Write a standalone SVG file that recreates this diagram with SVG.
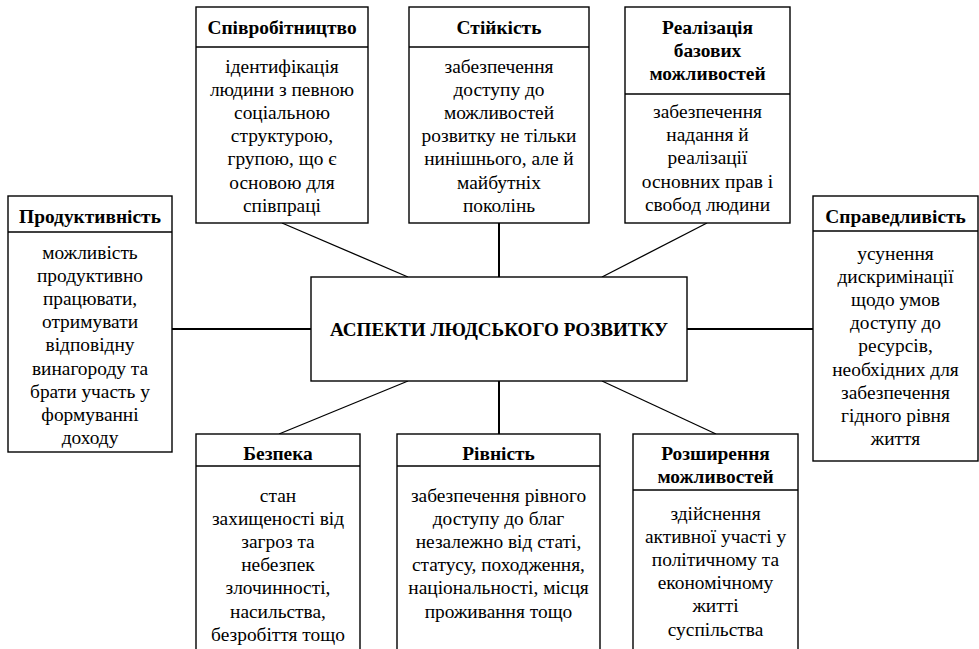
<svg xmlns="http://www.w3.org/2000/svg" width="979" height="649" viewBox="0 0 979 649">
<style>
.box{fill:#fff;stroke:#000;stroke-width:1.4}
.div{stroke:#000;stroke-width:1.6}
.t{font-family:"Liberation Serif","Times New Roman",serif;font-size:19.4px;fill:#000;text-anchor:middle}
.b{font-weight:bold}
.m{font-size:19.1px}
.c line{stroke:#000}
.d{stroke-width:1.3}
.s{stroke-width:2}
</style>
<rect width="979" height="649" fill="#fff"/>
<g id="connectors" class="c">
<line class="d" x1="282" y1="223" x2="408" y2="277"/>
<line class="s" x1="499" y1="223" x2="499" y2="277"/>
<line class="d" x1="707" y1="223" x2="602" y2="277"/>
<line class="s" x1="172" y1="329" x2="311" y2="329"/>
<line class="s" x1="687" y1="329" x2="813" y2="329"/>
<line class="d" x1="279" y1="434" x2="408" y2="381"/>
<line class="s" x1="499" y1="381" x2="499" y2="434"/>
<line class="d" x1="716" y1="434" x2="602" y2="381"/>
</g>
<g id="center">
<rect class="box" x="311" y="277" width="376" height="104"/>
<text class="t b m" x="499" y="335.5">АСПЕКТИ ЛЮДСЬКОГО РОЗВИТКУ</text>
</g>
<g id="spivrobitnytstvo">
<rect class="box" x="196" y="7" width="172" height="216"/>
<line class="div" x1="196" y1="47" x2="368" y2="47"/>
<text class="t b" x="282" y="33.5">Співробітництво</text>
<text class="t" x="282" y="72.5">ідентифікація</text>
<text class="t" x="282" y="95.7">людини з певною</text>
<text class="t" x="282" y="118.9">соціальною</text>
<text class="t" x="282" y="142.1">структурою,</text>
<text class="t" x="282" y="165.3">групою, що є</text>
<text class="t" x="282" y="188.5">основою для</text>
<text class="t" x="282" y="211.7">співпраці</text>
</g>
<g id="stiikist">
<rect class="box" x="409" y="7" width="180" height="216"/>
<line class="div" x1="409" y1="47" x2="589" y2="47"/>
<text class="t b" x="499" y="33.5">Стійкість</text>
<text class="t" x="499" y="72.5">забезпечення</text>
<text class="t" x="499" y="95.7">доступу до</text>
<text class="t" x="499" y="118.9">можливостей</text>
<text class="t" x="499" y="142.1">розвитку не тільки</text>
<text class="t" x="499" y="165.3">нинішнього, але й</text>
<text class="t" x="499" y="188.5">майбутніх</text>
<text class="t" x="499" y="211.7">поколінь</text>
</g>
<g id="realizatsiia">
<rect class="box" x="625" y="7" width="165" height="216"/>
<line class="div" x1="625" y1="94" x2="790" y2="94"/>
<text class="t b" x="707.5" y="33.5">Реалізація</text>
<text class="t b" x="707.5" y="56.7">базових</text>
<text class="t b" x="707.5" y="79.9">можливостей</text>
<text class="t" x="707.5" y="118">забезпечення</text>
<text class="t" x="707.5" y="141.2">надання й</text>
<text class="t" x="707.5" y="164.4">реалізації</text>
<text class="t" x="707.5" y="187.6">основних прав і</text>
<text class="t" x="707.5" y="210.8">свобод людини</text>
</g>
<g id="produktyvnist">
<rect class="box" x="8" y="196" width="164" height="256"/>
<line class="div" x1="8" y1="232" x2="172" y2="232"/>
<text class="t b" x="90" y="223">Продуктивність</text>
<text class="t" x="90" y="258.5">можливість</text>
<text class="t" x="90" y="281.7">продуктивно</text>
<text class="t" x="90" y="304.9">працювати,</text>
<text class="t" x="90" y="328.1">отримувати</text>
<text class="t" x="90" y="351.3">відповідну</text>
<text class="t" x="90" y="374.5">винагороду та</text>
<text class="t" x="90" y="397.7">брати участь у</text>
<text class="t" x="90" y="420.9">формуванні</text>
<text class="t" x="90" y="444.1">доходу</text>
</g>
<g id="spravedlyvist">
<rect class="box" x="813" y="196" width="165" height="265"/>
<line class="div" x1="813" y1="231" x2="978" y2="231"/>
<text class="t b" x="895.5" y="223">Справедливість</text>
<text class="t" x="895.5" y="259.5">усунення</text>
<text class="t" x="895.5" y="282.7">дискримінації</text>
<text class="t" x="895.5" y="305.9">щодо умов</text>
<text class="t" x="895.5" y="329.1">доступу до</text>
<text class="t" x="895.5" y="352.3">ресурсів,</text>
<text class="t" x="895.5" y="375.5">необхідних для</text>
<text class="t" x="895.5" y="398.7">забезпечення</text>
<text class="t" x="895.5" y="421.9">гідного рівня</text>
<text class="t" x="895.5" y="445.1">життя</text>
</g>
<g id="bezpeka">
<rect class="box" x="196" y="434" width="164" height="230"/>
<line class="div" x1="196" y1="466" x2="360" y2="466"/>
<text class="t b" x="278" y="459.5">Безпека</text>
<text class="t" x="278" y="501.5">стан</text>
<text class="t" x="278" y="524.7">захищеності від</text>
<text class="t" x="278" y="547.9">загроз та</text>
<text class="t" x="278" y="571.1">небезпек</text>
<text class="t" x="278" y="594.3">злочинності,</text>
<text class="t" x="278" y="617.5">насильства,</text>
<text class="t" x="278" y="640.7">безробіття тощо</text>
</g>
<g id="rivnist">
<rect class="box" x="397" y="434" width="203" height="230"/>
<line class="div" x1="397" y1="466" x2="600" y2="466"/>
<text class="t b" x="498.5" y="459.5">Рівність</text>
<text class="t" x="498.5" y="501.5">забезпечення рівного</text>
<text class="t" x="498.5" y="524.7">доступу до благ</text>
<text class="t" x="498.5" y="547.9">незалежно від статі,</text>
<text class="t" x="498.5" y="571.1">статусу, походження,</text>
<text class="t" x="498.5" y="594.3">національності, місця</text>
<text class="t" x="498.5" y="617.5">проживання тощо</text>
</g>
<g id="rozshyrennia">
<rect class="box" x="633" y="434" width="165" height="230"/>
<line class="div" x1="633" y1="490" x2="798" y2="490"/>
<text class="t b" x="715.5" y="459.5">Розширення</text>
<text class="t b" x="715.5" y="483">можливостей</text>
<text class="t" x="715.5" y="519.5">здійснення</text>
<text class="t" x="715.5" y="542.7">активної участі у</text>
<text class="t" x="715.5" y="565.9">політичному та</text>
<text class="t" x="715.5" y="589.1">економічному</text>
<text class="t" x="715.5" y="612.3">житті</text>
<text class="t" x="715.5" y="635.5">суспільства</text>
</g>
</svg>
